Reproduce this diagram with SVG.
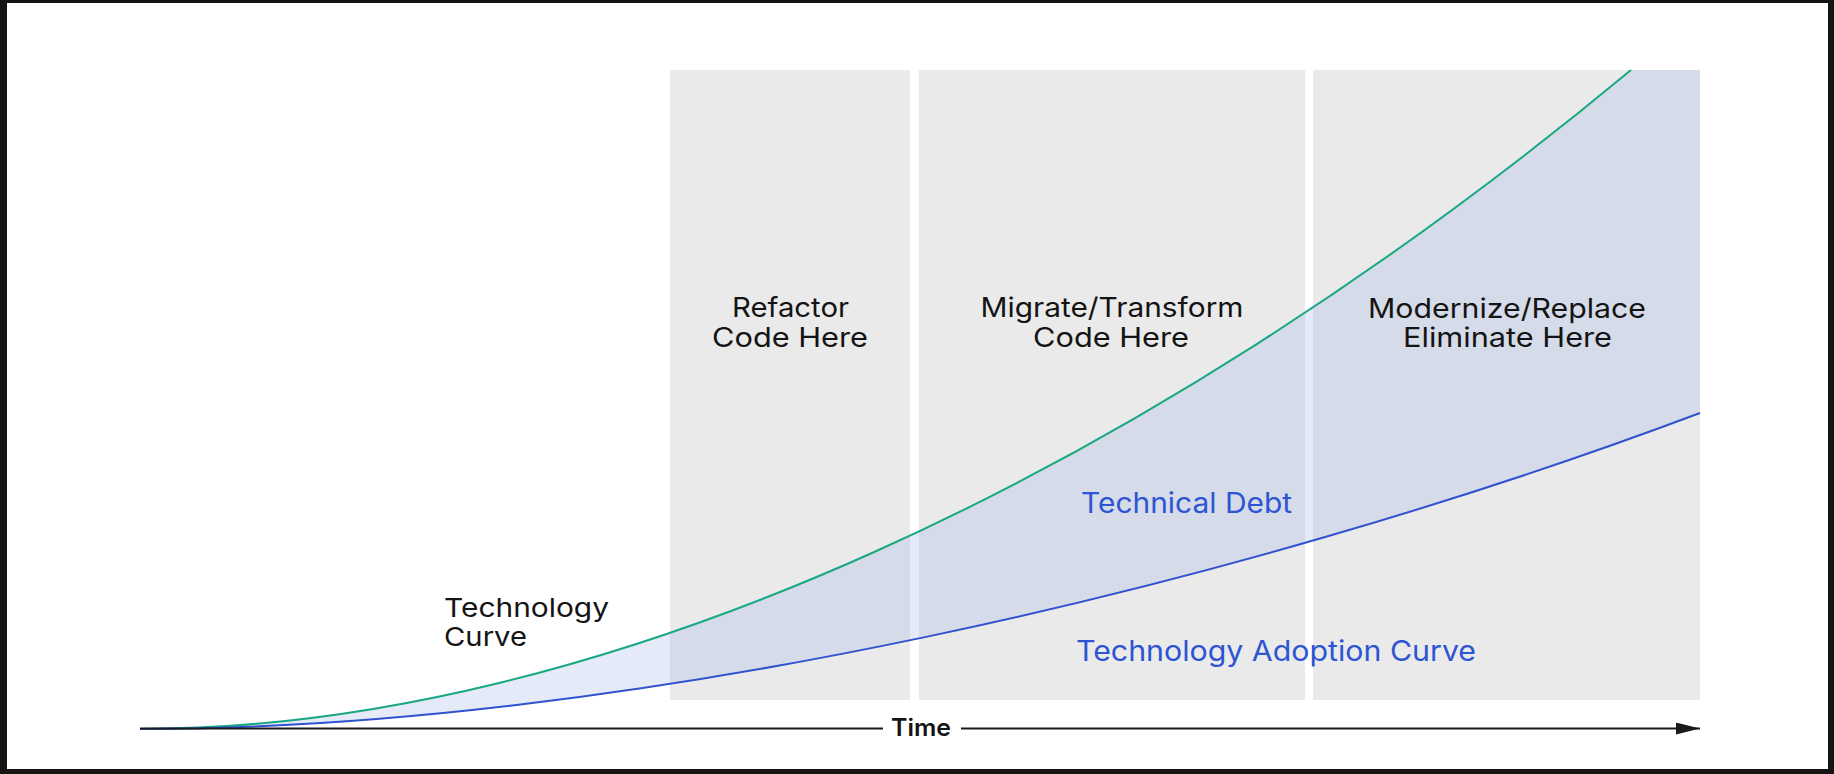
<svg xmlns="http://www.w3.org/2000/svg" width="1834" height="774" viewBox="0 0 1834 774">
  <defs>
    <style>
      .panel { fill: #eaeaea; }
      .lbl { font-family: Inter, "Liberation Sans", sans-serif; font-size: 27px; fill: #141414; text-anchor: middle; }
      .blue { font-family: Inter, "Liberation Sans", sans-serif; font-size: 28px; fill: #2d54d2; }
      .dark { font-family: Inter, "Liberation Sans", sans-serif; font-size: 26px; fill: #141414; }
      .time { font-family: Inter, "Liberation Sans", sans-serif; font-size: 24px; font-weight: 600; fill: #141414; text-anchor: middle; }
      .axis { stroke: #1a1a1a; stroke-width: 2; fill: none; }
    </style>
    <marker id="arrow" viewBox="0 0 24 12" refX="24" refY="6" markerWidth="24" markerHeight="12" markerUnits="userSpaceOnUse" orient="auto">
      <path d="M0,0 L24,6 L0,12 Z" fill="#1a1a1a"/>
    </marker>
  </defs>

  <rect x="0" y="0" width="1834" height="774" fill="#141414"/>
  <rect x="7" y="3" width="1821" height="766" fill="#ffffff"/>

  <g id="panel-refactor">
    <rect class="panel" x="670" y="70" width="240" height="630"/>
  </g>
  <g id="panel-migrate">
    <rect class="panel" x="919" y="70" width="386" height="630"/>
  </g>
  <g id="panel-modernize">
    <rect class="panel" x="1313" y="70" width="387" height="630"/>
  </g>

  <g id="debt-area">
    <path d="M140,729 C600,729 1141,476.7 1631,70 L1700,70 L1700,413 C1229,590 621,729 140,729 Z" fill="rgb(160,181,226)" fill-opacity="0.286"/>
  </g>

  <g id="connectors">
    <path id="technology-curve" d="M140,729 C600,729 1141,476.7 1631,70" fill="none" stroke="#19a784" stroke-width="2"/>
    <path id="adoption-curve" d="M140,729 C621,729 1229,590 1700,413" fill="none" stroke="#3052cf" stroke-width="2"/>
    <line class="axis" x1="140" y1="728.5" x2="883" y2="728.5"/>
    <line class="axis" x1="961" y1="728.5" x2="1700" y2="728.5" marker-end="url(#arrow)"/>
  </g>

  <g id="label-refactor">
    <text class="lbl" x="790.5" y="317" textLength="117" lengthAdjust="spacingAndGlyphs">Refactor</text>
    <text class="lbl" x="790" y="347" textLength="156" lengthAdjust="spacingAndGlyphs">Code Here</text>
  </g>
  <g id="label-migrate">
    <text class="lbl" x="1112" y="317" textLength="263" lengthAdjust="spacingAndGlyphs">Migrate/Transform</text>
    <text class="lbl" x="1111" y="347" textLength="156" lengthAdjust="spacingAndGlyphs">Code Here</text>
  </g>
  <g id="label-modernize">
    <text class="lbl" x="1507" y="317.5" textLength="278" lengthAdjust="spacingAndGlyphs">Modernize/Replace</text>
    <text class="lbl" x="1507.5" y="347" textLength="209" lengthAdjust="spacingAndGlyphs">Eliminate Here</text>
  </g>
  <g id="label-debt">
    <text class="blue" x="1081" y="513" textLength="211" lengthAdjust="spacingAndGlyphs">Technical Debt</text>
  </g>
  <g id="label-adoption">
    <text class="blue" x="1076" y="661" textLength="400" lengthAdjust="spacingAndGlyphs">Technology Adoption Curve</text>
  </g>
  <g id="label-technology">
    <text class="dark" x="444" y="617" textLength="165" lengthAdjust="spacingAndGlyphs">Technology</text>
    <text class="dark" x="444" y="646" textLength="83" lengthAdjust="spacingAndGlyphs">Curve</text>
  </g>
  <g id="label-time">
    <text class="time" x="921" y="736" textLength="60" lengthAdjust="spacingAndGlyphs">Time</text>
  </g>
</svg>
